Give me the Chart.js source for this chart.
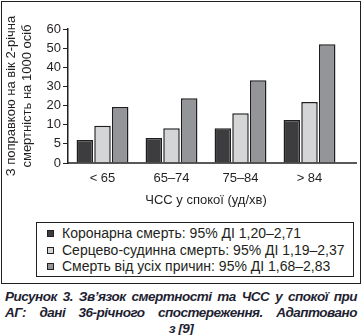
<!DOCTYPE html>
<html>
<head>
<meta charset="utf-8">
<script src="https://cdn.jsdelivr.net/npm/chart.js@4.4.0/dist/chart.umd.min.js"></script>
<style>
body{margin:0;width:363px;height:335px;background:#fff;font-family:"Liberation Sans",Arial,sans-serif;color:#231f20;position:relative;overflow:hidden}
#frame{position:absolute;left:1px;top:1px;width:358px;height:281px;border:1px solid #231f20}
#wrap{position:absolute;left:0;top:0;width:358px;height:212px}
#legend{position:absolute;left:34px;top:220px;width:316px;height:53px;border:1px solid #231f20;font-size:14px}
#legend .row{position:absolute;left:0;height:16px;line-height:16px;white-space:nowrap}
#legend .sw{position:absolute;left:10px;top:5px;width:5px;height:5px;border:1px solid #231f20}
#legend .tx{position:absolute;left:25px;top:0}
#caption{position:absolute;left:5px;top:289px;width:352px;font-size:13.5px;letter-spacing:-0.5px;font-weight:bold;font-style:italic;line-height:16px;color:#1f1f33}
#caption div{white-space:nowrap;text-align:justify;text-align-last:justify}
#caption div.last{text-align:center;text-align-last:center}
</style>
</head>
<body>
<div id="frame">
  <div id="wrap"><canvas id="chart"></canvas></div>
  <div id="legend"></div>
</div>
<div id="caption">
  <div>Рисунок 3. Зв’язок смертності та ЧСС у спокої при</div>
  <div>АГ: дані 36-річного спостереження. Адаптовано</div>
  <div class="last">з [9]</div>
</div>
<script>
var categories = ['< 65', '65–74', '75–84', '> 84'];
var coronary = [6.0, 6.5, 9.1, 12.5];
var cardio = [9.7, 9.1, 16.0, 21.9];
var allCause = [19.3, 23.8, 33.2, 52.0];
var seriesNames = [
    'Коронарна смерть: 95% ДІ 1,20–2,71',
    'Серцево-судинна смерть: 95% ДІ 1,19–2,37',
    'Смерть від усіх причин: 95% ДІ 1,68–2,83'
];
var seriesColors = ['#3d3d3f', '#d4d5d7', '#949599'];
var yTicks = [0, 5, 10, 20, 30, 40, 50, 60];
var yTitle = ['З поправкою на вік 2-річна', 'смертність на 1000 осіб'];
var xTitle = 'ЧСС у спокої (уд/хв)';

var ink = '#231f20';

// y axis of the original: tick labels evenly spaced, not proportional
class StepScale extends Chart.LinearScale {
    buildTicks() {
        return yTicks.map(function(v) { return { value: v }; });
    }
    getPixelForValue(v) {
        var n = yTicks.length - 1;
        if (v >= yTicks[n]) return this.getPixelForDecimal(1);
        if (v <= yTicks[0]) return this.getPixelForDecimal(0);
        var i = 0;
        while (i < n - 1 && v > yTicks[i + 1]) i++;
        var f = (i + (v - yTicks[i]) / (yTicks[i + 1] - yTicks[i])) / n;
        return this.getPixelForDecimal(f);
    }
    getValueForPixel(p) {
        var n = yTicks.length - 1;
        var d = this.getDecimalForPixel(p) * n;
        var i = Math.max(0, Math.min(n - 1, Math.floor(d)));
        return yTicks[i] + (d - i) * (yTicks[i + 1] - yTicks[i]);
    }
}
StepScale.id = 'step';
StepScale.defaults = Chart.LinearScale.defaults;
Chart.register(StepScale);

var baseline = {
    id: 'baseline',
    afterDraw: function(chart) {
        var ctx = chart.ctx, a = chart.chartArea;
        ctx.save();
        ctx.strokeStyle = ink;
        ctx.lineWidth = 1.5;
        ctx.beginPath();
        ctx.moveTo(a.left, a.bottom);
        ctx.lineTo(a.right + 13, a.bottom);
        ctx.stroke();
        ctx.restore();
    }
};

var datasets = [coronary, cardio, allCause].map(function(d, i) {
    return {
        label: seriesNames[i],
        data: d,
        backgroundColor: seriesColors[i],
        borderColor: '#1e1e1e',
        borderWidth: 1.5,
        categoryPercentage: 0.77,
        barPercentage: 0.93
    };
});

new Chart(document.getElementById('chart'), {
    type: 'bar',
    data: { labels: categories, datasets: datasets },
    plugins: [baseline],
    options: {
        responsive: true,
        maintainAspectRatio: false,
        animation: false,
        layout: { padding: { top: 27, right: 16, left: 0, bottom: 0 } },
        plugins: {
            legend: { display: false },
            tooltip: { enabled: false }
        },
        scales: {
            x: {
                afterFit: function(s) { s.height = 51; },
                grid: { display: false, drawTicks: false },
                border: { display: false },
                ticks: { color: ink, font: { family: 'Liberation Sans', size: 13 }, padding: 8 },
                title: { display: true, text: xTitle, color: ink, font: { family: 'Liberation Sans', size: 13 }, padding: { top: 0, bottom: 6 } }
            },
            y: {
                type: 'step',
                min: 0,
                max: 60,
                afterFit: function(s) { s.width = 66; },
                grid: { drawOnChartArea: false, drawTicks: true, tickLength: 5, color: ink, lineWidth: 1 },
                border: { display: true, color: ink, width: 1.5 },
                ticks: {
                    color: ink,
                    font: { family: 'Liberation Sans', size: 13 },
                    padding: 2,
                    callback: function(v) { return String(v); }
                },
                title: { display: true, text: yTitle, color: ink, font: { family: 'Liberation Sans', size: 13 }, padding: { top: 2, bottom: 0 } }
            }
        }
    }
});

var lg = document.getElementById('legend');
seriesNames.forEach(function(name, i) {
    var row = document.createElement('div');
    row.className = 'row';
    row.style.top = (2 + i * 16.5) + 'px';
    row.innerHTML = '<span class="sw" style="background:' + seriesColors[i] + '"></span><span class="tx"></span>';
    row.querySelector('.tx').textContent = name;
    lg.appendChild(row);
});
</script>
</body>
</html>
